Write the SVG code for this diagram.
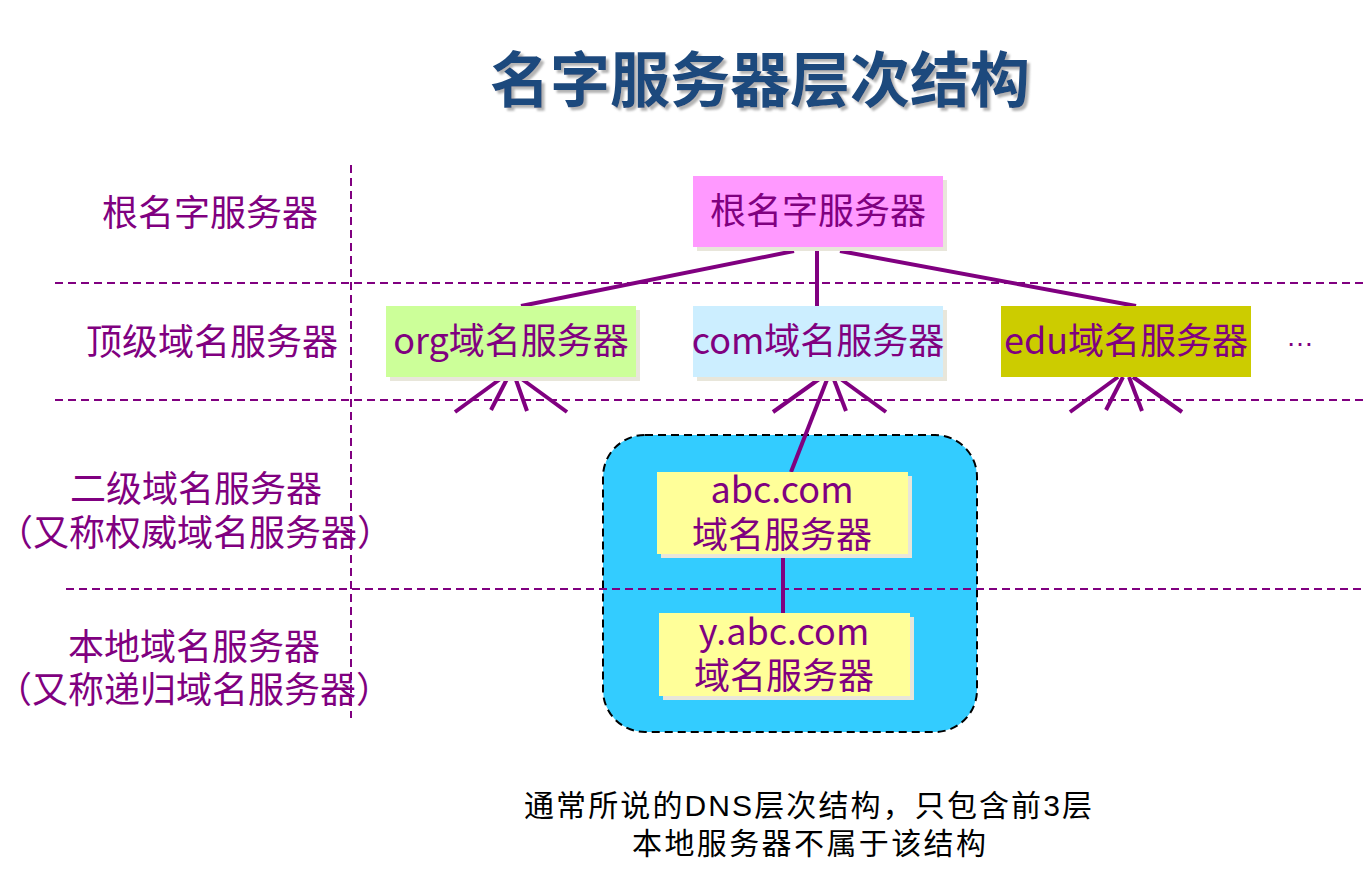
<svg xmlns="http://www.w3.org/2000/svg" width="1366" height="871" viewBox="0 0 1366 871">
<defs>
<filter id="tshadow" x="-5%" y="-20%" width="110%" height="140%">
<feDropShadow dx="3" dy="3" stdDeviation="1" flood-color="#a0a0a0" flood-opacity="0.8"/>
</filter>
</defs>
<style>
.t{font-family:"Noto Sans CJK SC","Liberation Sans",sans-serif;fill:#800080;font-size:36px;text-anchor:middle}
.guide{stroke:#800080;stroke-width:2;stroke-dasharray:8,5;fill:none}
.conn{stroke:#800080;stroke-width:4;fill:none}
.shadow{fill:#e8e6da}
.title{font-family:"Noto Sans CJK SC","Liberation Sans",sans-serif;font-weight:bold;font-size:60px;text-anchor:middle}
.note{font-family:"Liberation Sans","Noto Sans CJK SC",sans-serif;font-size:30px;fill:#000;text-anchor:middle}
</style>
<rect width="1366" height="871" fill="#fff"/>
<g id="title">
<text class="title" x="760" y="102" fill="#1f4a7d" filter="url(#tshadow)">名字服务器层次结构</text>
</g>
<g id="guides">
<line class="guide" x1="351" y1="165" x2="351" y2="718"/>
<line class="guide" x1="55" y1="283" x2="1366" y2="283"/>
<line class="guide" x1="55" y1="400" x2="1366" y2="400"/>
</g>
<g id="level-labels">
<text class="t" x="210" y="226">根名字服务器</text>
<text class="t" x="212" y="355">顶级域名服务器</text>
<text class="t" x="196" y="502">二级域名服务器</text>
<text class="t" x="195" y="546">（又称权威域名服务器）</text>
<text class="t" x="194" y="660">本地域名服务器</text>
<text class="t" x="194" y="703">（又称递归域名服务器）</text>
</g>
<g id="group-box">
<rect x="603" y="435" width="374" height="297" rx="42" ry="42" fill="#33ccff" stroke="#000" stroke-width="2" stroke-dasharray="8,5"/>
</g>
<line class="guide" x1="66" y1="589" x2="1366" y2="589"/>
<g id="connectors">
<line class="conn" x1="794" y1="251" x2="521" y2="306"/>
<line class="conn" x1="817" y1="251" x2="817" y2="306"/>
<line class="conn" x1="840" y1="251" x2="1136" y2="306"/>
<line class="conn" x1="503" y1="377" x2="455" y2="412"/>
<line class="conn" x1="508" y1="377" x2="491" y2="410"/>
<line class="conn" x1="515" y1="377" x2="527" y2="411"/>
<line class="conn" x1="519" y1="377" x2="567" y2="412"/>
<line class="conn" x1="822" y1="377" x2="773" y2="412"/>
<line class="conn" x1="828" y1="377" x2="791" y2="472"/>
<line class="conn" x1="833" y1="377" x2="846" y2="411"/>
<line class="conn" x1="838" y1="377" x2="886" y2="412"/>
<line class="conn" x1="1118" y1="377" x2="1070" y2="412"/>
<line class="conn" x1="1123" y1="377" x2="1106" y2="410"/>
<line class="conn" x1="1129" y1="377" x2="1142" y2="411"/>
<line class="conn" x1="1133" y1="377" x2="1182" y2="412"/>
<line class="conn" x1="783" y1="554" x2="783" y2="613"/>
</g>
<g id="root">
<rect class="shadow" x="697" y="180" width="250" height="71"/>
<rect x="693" y="176" width="250" height="71" fill="#ff99ff"/>
<text class="t" x="818" y="224">根名字服务器</text>
</g>
<g id="org">
<rect class="shadow" x="390" y="310" width="250" height="71"/>
<rect x="386" y="306" width="250" height="71" fill="#ccff99"/>
<text class="t" x="511" y="354">org域名服务器</text>
</g>
<g id="com">
<rect class="shadow" x="697" y="310" width="250" height="71"/>
<rect x="693" y="306" width="250" height="71" fill="#cceeff"/>
<text class="t" x="818" y="354">com域名服务器</text>
</g>
<g id="edu">
<rect x="1001" y="306" width="250" height="71" fill="#cccc00"/>
<text class="t" x="1126" y="354">edu域名服务器</text>
</g>
<g id="more">
<text x="1300" y="346" font-family="Liberation Sans,sans-serif" font-size="28" fill="#800080" text-anchor="middle">…</text>
</g>
<g id="abc">
<rect class="shadow" x="661" y="476" width="251" height="82"/>
<rect x="657" y="472" width="251" height="82" fill="#ffff99"/>
<text class="t" x="782" y="503">abc.com</text>
<text class="t" x="782" y="548">域名服务器</text>
</g>
<g id="yabc">
<rect class="shadow" x="663" y="617" width="251" height="83"/>
<rect x="659" y="613" width="251" height="83" fill="#ffff99"/>
<text class="t" x="784" y="645">y.abc.com</text>
<text class="t" x="784" y="689">域名服务器</text>
</g>
<g id="note">
<text class="note" x="808" y="816" textLength="568" lengthAdjust="spacing">通常所说的DNS层次结构，只包含前3层</text>
<text class="note" x="809" y="854" textLength="354" lengthAdjust="spacing">本地服务器不属于该结构</text>
</g>
</svg>
